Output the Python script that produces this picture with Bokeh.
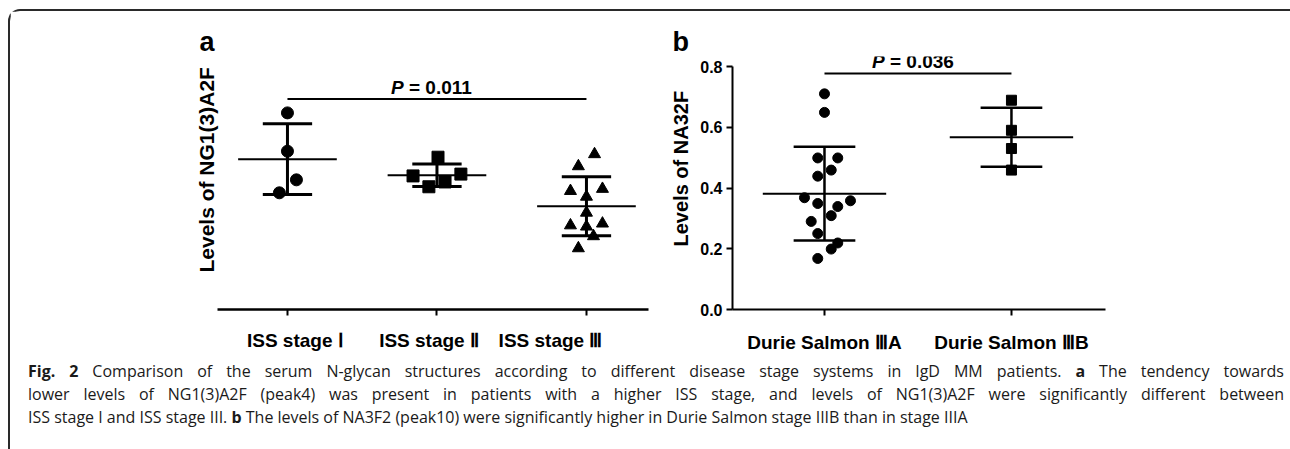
import numpy as np
from bokeh.plotting import figure
from bokeh.models import Range1d, FixedTicker, Label, Div, Spacer, Title
from bokeh.layouts import row, column
from bokeh.embed import file_html
from bokeh.resources import INLINE

# ---------------- data ----------------
iss_labels = ["ISS stage Ⅰ", "ISS stage Ⅱ", "ISS stage Ⅲ"]
iss_markers = ["circle", "square", "triangle"]
iss_stage1 = [0.652, 0.525, 0.430, 0.387]
iss_stage2 = [0.505, 0.443, 0.449, 0.407, 0.423]
iss_stage3 = [0.515, 0.475, 0.393, 0.400, 0.374, 0.321, 0.275, 0.279, 0.285, 0.243, 0.203]
iss_jitter1 = [0.0, 0.0, 0.06, -0.054]
iss_jitter2 = [0.007, -0.16, 0.16, -0.054, 0.054]
iss_jitter3 = [0.054, -0.054, -0.107, 0.107, 0.0, 0.0, 0.0, -0.107, 0.107, 0.047, -0.054]
iss_p_text = "0.011"
iss_bracket = 0.698

ds_labels = ["Durie Salmon ⅢA", "Durie Salmon ⅢB"]
ds_markers = ["circle", "square"]
ds_3a = [0.710, 0.649, 0.499, 0.499, 0.459, 0.439, 0.368, 0.349, 0.339, 0.358,
         0.309, 0.290, 0.250, 0.219, 0.199, 0.168]
ds_3b = [0.689, 0.590, 0.530, 0.459]
ds_jitter_3a = [0.0, 0.0, -0.036, 0.071, 0.036, -0.036, -0.107, -0.036, 0.071, 0.139,
                0.036, -0.071, -0.036, 0.071, 0.036, -0.036]
ds_jitter_3b = [0.0, 0.0, 0.0, 0.0]
ds_p_text = "0.036"
ds_bracket = 0.777
ds_yticks = [0.0, 0.2, 0.4, 0.6, 0.8]

FONT = "Liberation Sans"
MEAN_HALF = 0.33
CAP_HALF = 0.165
TEXT_GAP = 0.004   # gap between bracket and P text box, in data units
NB = "\u00a0"
# (leading, trailing) no-break spaces to nudge the ISS labels as in the original
ISS_LABEL_PAD = [(3, 0), (0, 3), (0, 11)]


def style_common(p, letter, offset):
    p.outline_line_color = None
    p.xgrid.visible = False
    p.ygrid.visible = False
    p.background_fill_color = "white"
    p.border_fill_color = "white"
    p.title.text = letter
    p.title.align = "left"
    p.title.offset = offset
    p.title.standoff = 0
    p.title.text_font = FONT
    p.title.text_font_size = "27px"
    p.title.text_font_style = "bold"
    p.title.text_color = "black"


def style_xaxis(ax, labels, width, standoff, pads=None):
    ax.ticker = FixedTicker(ticks=list(range(len(labels))))
    if pads is None:
        pads = [(0, 0)] * len(labels)
    ax.major_label_overrides = {i: NB * a + lab + NB * b
                                for i, (lab, (a, b)) in enumerate(zip(labels, pads))}
    ax.axis_line_width = width
    ax.axis_line_color = "black"
    ax.major_tick_line_width = 2
    ax.major_tick_line_color = "black"
    ax.major_tick_out = 6
    ax.major_tick_in = 0
    ax.minor_tick_line_color = None
    ax.major_label_standoff = standoff
    ax.major_label_text_font = FONT
    ax.major_label_text_font_size = "19px"
    ax.major_label_text_font_style = "bold"
    ax.major_label_text_color = "black"


def ylabel_title(p, text, offset, standoff, size):
    p.add_layout(Title(text=text, align="left", offset=offset, standoff=standoff,
                       text_font=FONT, text_font_size=size, text_font_style="bold",
                       text_color="black"), "left")


def draw_groups(p, groups, jitters, markers, size, bar_w):
    for i, (vals, jit, mk) in enumerate(zip(groups, jitters, markers)):
        v = np.asarray(vals, dtype=float)
        m = v.mean()
        s = v.std(ddof=1)
        p.segment(x0=[i - MEAN_HALF], x1=[i + MEAN_HALF], y0=[m], y1=[m],
                  line_color="black", line_width=2)
        p.segment(x0=[i - CAP_HALF, i - CAP_HALF, i], x1=[i + CAP_HALF, i + CAP_HALF, i],
                  y0=[m + s, m - s, m - s], y1=[m + s, m - s, m + s],
                  line_color="black", line_width=bar_w)
        xs = [i + j for j in jit]
        p.scatter(xs, list(v), marker=mk, size=size, fill_color="black", line_color="black")


def bracket(p, x0, x1, y, txt):
    p.segment(x0=[x0], x1=[x1], y0=[y], y1=[y], line_color="black", line_width=2)
    xc = (x0 + x1) / 2
    p.add_layout(Label(x=xc, y=y + TEXT_GAP, text="P", x_offset=-46, text_align="left",
                       text_baseline="bottom", text_font=FONT, text_font_size="19px",
                       text_font_style="bold italic", text_color="black"))
    p.add_layout(Label(x=xc, y=y + TEXT_GAP, text="= " + txt, x_offset=-28, text_align="left",
                       text_baseline="bottom", text_font=FONT, text_font_size="19px",
                       text_font_style="bold", text_color="black"))


# ---------------- panel a ----------------
pa = figure(width=650, height=344, x_range=Range1d(-0.468, 2.415), y_range=Range1d(0, 0.839),
            output_backend="svg", toolbar_location=None,
            min_border_left=207, min_border_right=12, min_border_top=45, min_border_bottom=43)
style_common(pa, "a", -18)
pa.yaxis.visible = False
ylabel_title(pa, "Levels of NG1(3)A2F", 37, 0, "21px")
style_xaxis(pa.xaxis, iss_labels, 2.5, 14, ISS_LABEL_PAD)

draw_groups(pa, [iss_stage1, iss_stage2, iss_stage3], [iss_jitter1, iss_jitter2, iss_jitter3],
            iss_markers, 12, 3)
bracket(pa, 0, 2, iss_bracket, iss_p_text)

# ---------------- panel b ----------------
pb = figure(width=628, height=344, x_range=Range1d(-0.492, 1.503), y_range=Range1d(0, 0.833),
            output_backend="svg", toolbar_location=None,
            min_border_left=72, min_border_right=183, min_border_top=45, min_border_bottom=45)
style_common(pb, "b", -60)
pb.yaxis.ticker = FixedTicker(ticks=ds_yticks)
pb.yaxis.major_label_overrides = {t: f"{t:.1f}" for t in ds_yticks}
pb.yaxis.bounds = (0, 0.8)
pb.yaxis.axis_line_width = 2
pb.yaxis.axis_line_color = "black"
pb.yaxis.major_tick_line_width = 2
pb.yaxis.major_tick_line_color = "black"
pb.yaxis.major_tick_out = 6
pb.yaxis.major_tick_in = 0
pb.yaxis.minor_tick_line_color = None
pb.yaxis.major_label_standoff = 4
pb.yaxis.major_label_text_font = FONT
pb.yaxis.major_label_text_font_size = "16px"
pb.yaxis.major_label_text_font_style = "bold"
pb.yaxis.major_label_text_color = "black"
ylabel_title(pb, "Levels of NA32F", 63, 11, "20px")
style_xaxis(pb.xaxis, ds_labels, 2, 16)

draw_groups(pb, [ds_3a, ds_3b], [ds_jitter_3a, ds_jitter_3b], ds_markers, 10, 2.5)
bracket(pb, 0, 1, ds_bracket, ds_p_text)

# ---------------- caption ----------------
line1 = ('<b>Fig. 2</b> Comparison of the serum N-glycan structures according to different disease '
         'stage systems in IgD MM patients. <b>a</b> The tendency towards')
line2 = ('lower levels of NG1(3)A2F (peak4) was present in patients with a higher ISS stage, and levels '
         'of NG1(3)A2F were significantly different between')
line3 = ('ISS stage I and ISS stage III. <b>b</b> The levels of NA3F2 (peak10) were significantly higher '
         'in Durie Salmon stage IIIB than in stage IIIA')
just = 'style="width:1256px;text-align:justify;text-align-last:justify;white-space:normal"'
html = (f'<div {just}>{line1}</div><div {just}>{line2}</div>'
        f'<div style="width:1256px;text-align:left;white-space:normal">{line3}</div>')
cap = Div(text=html, width=1278, height=90,
          styles={"font-family": "Open Sans", "font-size": "16px", "line-height": "23px",
                  "color": "#1a1a1a",
                  "padding": "0px 9px 0px 13px", "box-sizing": "border-box"})

inner = column(row(pa, pb), cap,
               styles={"border-top": "2px solid #2a2a2a", "border-left": "2px solid #2a2a2a",
                       "border-top-left-radius": "12px", "border-bottom-left-radius": "6px"})
layout = column(Spacer(width=10, height=9), row(Spacer(width=8, height=10), inner))

open("out.html", "w").write(file_html(layout, INLINE))
